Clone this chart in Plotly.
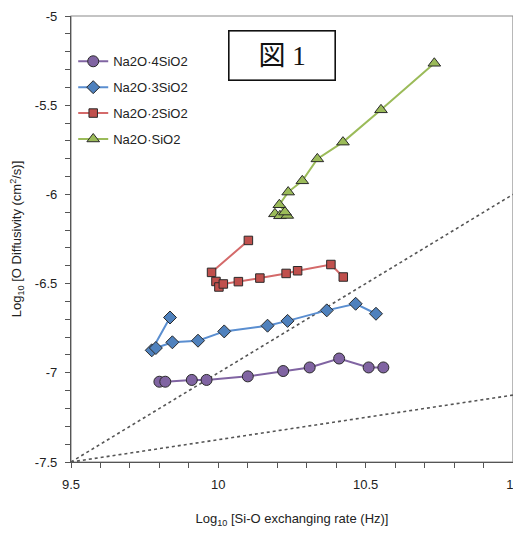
import numpy as np
import plotly.graph_objects as go

# ---- data ----
series_names = ["Na2O·4SiO2", "Na2O·3SiO2", "Na2O·2SiO2", "Na2O·SiO2"]

x_4sio2 = [9.80, 9.82, 9.91, 9.96, 10.10, 10.22, 10.31, 10.41, 10.51, 10.56]
y_4sio2 = [-7.05, -7.05, -7.04, -7.04, -7.02, -6.99, -6.97, -6.92, -6.97, -6.97]

x_3sio2 = [9.836, 9.774, 9.788, 9.844, 9.931, 10.020, 10.167, 10.235, 10.368, 10.466, 10.535]
y_3sio2 = [-6.69, -6.874, -6.861, -6.829, -6.820, -6.768, -6.736, -6.709, -6.650, -6.613, -6.669]

x_2sio2 = [10.102, 9.977, 9.992, 10.002, 10.017, 10.068, 10.141, 10.230, 10.269, 10.382, 10.424]
y_2sio2 = [-6.258, -6.437, -6.488, -6.519, -6.502, -6.489, -6.469, -6.443, -6.428, -6.393, -6.463]

x_sio2 = [10.192, 10.209, 10.234, 10.226, 10.207, 10.237, 10.285, 10.336, 10.423, 10.552, 10.733]
y_sio2 = [-6.109, -6.120, -6.118, -6.099, -6.058, -5.987, -5.924, -5.801, -5.707, -5.526, -5.265]

ref_line1_x = [9.5, 11.0]
ref_line1_y = [-7.5, -6.0]
ref_line2_x = [9.5, 11.0]
ref_line2_y = [-7.5, -7.125]

x_tickvals = [9.5, 10, 10.5, 11]
x_ticktext = ["9.5", "10", "10.5", "11"]
y_tickvals = [-7.5, -7, -6.5, -6, -5.5, -5]
y_ticktext = ["-7.5", "-7", "-6.5", "-6", "-5.5", "-5"]

x_minor = list(np.round(np.arange(9.5, 11.0001, 0.1), 3))
y_minor = list(np.round(np.arange(-7.5, -4.9999, 0.1), 3))

fig = go.Figure()

# reference dotted lines
for xs, ys in [(ref_line1_x, ref_line1_y), (ref_line2_x, ref_line2_y)]:
    fig.add_trace(go.Scatter(x=xs, y=ys, mode="lines", showlegend=False,
                             line=dict(color="#555555", width=1.6, dash="dot"),
                             hoverinfo="skip"))

styles = [
    (x_4sio2, y_4sio2, "circle", "#8064A2", "#8064A2", 11),
    (x_3sio2, y_3sio2, "diamond", "#4F81BD", "#5A8ED0", 10),
    (x_2sio2, y_2sio2, "square", "#C0504D", "#D46A6A", 8.5),
    (x_sio2, y_sio2, "triangle-up", "#9BBB59", "#9BBB59", 11),
]
for i, (xs, ys, sym, mcol, lcol, size) in enumerate(styles):
    fig.add_trace(go.Scatter(
        x=xs, y=ys, mode="lines+markers", name=series_names[i],
        legendgroup=f"g{i}",
        line=dict(color=lcol, width=2),
        marker=dict(symbol=sym, size=size, color=mcol,
                    line=dict(color="#2a2a2a", width=1)),
    ))

axis_common = dict(
    showgrid=False, zeroline=False, showline=True, linecolor="#555555",
    linewidth=1.3, ticks="outside", ticklen=5, tickcolor="#555555",
    tickfont=dict(family="Liberation Sans, Arial", size=13, color="#222222"),
    tickmode="array", ticklabelstandoff=5, automargin=False,
    ticklabeloverflow="allow",
)

fig.update_layout(
    width=513, height=520,
    margin=dict(l=63, r=8, t=8, b=66),
    paper_bgcolor="white", plot_bgcolor="white",
    showlegend=True,
    legend=dict(x=0.005, y=0.932, xanchor="left", yanchor="top",
                bgcolor="rgba(0,0,0,0)", tracegroupgap=6,
                traceorder="grouped",
                font=dict(family="Liberation Sans, Arial", size=13, color="#222222")),
    xaxis=dict(range=[9.5, 11], tickvals=x_tickvals, ticktext=x_ticktext,
               minor=dict(tickmode="array", tickvals=x_minor,
                          ticks="outside", ticklen=5, tickcolor="#555555"),
               title=dict(text="Log<sub>10</sub> [Si-O exchanging rate (Hz)]",
                          font=dict(family="Liberation Sans, Arial", size=13,
                                    color="#222222"), standoff=28),
               **axis_common),
    yaxis=dict(range=[-7.5, -5], tickvals=y_tickvals, ticktext=y_ticktext,
               minor=dict(tickmode="array", tickvals=y_minor,
                          ticks="outside", ticklen=5, tickcolor="#555555"),
               title=dict(text="Log<sub>10</sub> [O Diffusivity (cm<sup>2</sup>/s)]",
                          font=dict(family="Liberation Sans, Arial", size=13,
                                    color="#222222"), standoff=10),
               **axis_common),
    shapes=[dict(type="rect", xref="paper", yref="paper", x0=0, y0=0, x1=1, y1=1,
                 line=dict(color="#8a8a8a", width=1.2), layer="below")],
    annotations=[dict(text="図 1", xref="paper", yref="paper", x=0.477, y=0.911,
                      xanchor="center", yanchor="middle", showarrow=False,
                      width=105, height=48, borderpad=0,
                      bordercolor="#111111", borderwidth=1.6, bgcolor="white",
                      font=dict(family="Liberation Serif, Noto Sans CJK JP",
                                size=27, color="#111111"))],
)

fig.write_html("out.html")
